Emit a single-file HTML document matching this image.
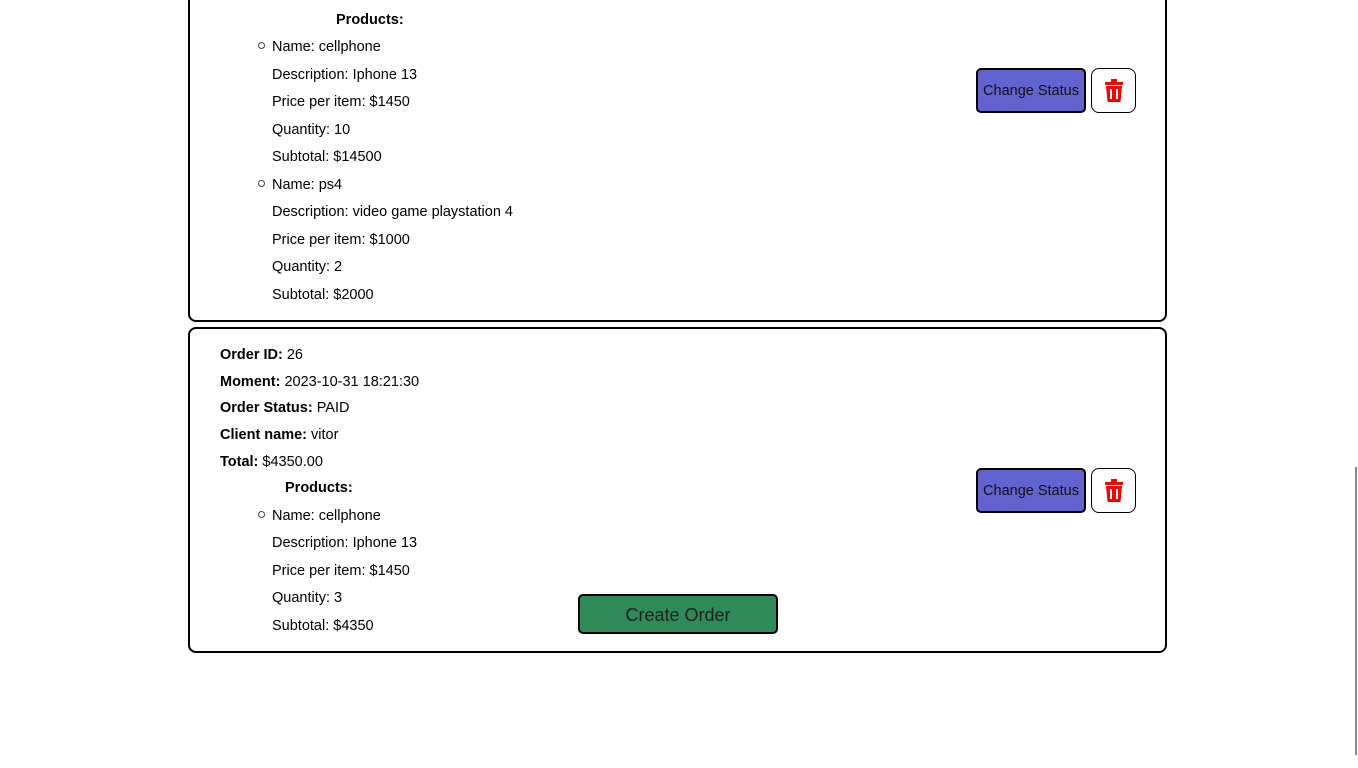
<!DOCTYPE html>
<html><head><style>
body{margin:0;width:1358px;height:768px;background:#fff;position:relative;overflow:hidden;font-family:"Liberation Sans",sans-serif;font-size:15px;color:#000}
.card{position:absolute;left:188px;width:975px;border:2px solid #000;border-radius:8px}
.t{position:absolute;line-height:20px;white-space:nowrap;font-size:14.5px}
b{font-weight:bold}
.cs{position:absolute;left:976px;width:106px;height:41px;background:#6363cf;border:2px solid #000;border-radius:5px;font-size:14.5px;line-height:43px;text-align:center;color:#111}
.tr{position:absolute;left:1091px;width:43px;height:43px;border:1px solid #000;border-radius:8px;background:#fff}
.b{position:absolute;left:258px;width:5px;height:5px;border:1px solid #444;border-radius:50%}
</style></head><body>
<div class="card" style="top:-20px;height:338px"></div>
<div class="card" style="top:327px;height:322px"></div>

<div class="t" style="left:336px;top:10px"><b>Products:</b></div>
<div class="b" style="top:42px"></div>
<div class="t" style="left:272px;top:37px">Name: cellphone</div>
<div class="t" style="left:272px;top:65px">Description: Iphone 13</div>
<div class="t" style="left:272px;top:92px">Price per item: $1450</div>
<div class="t" style="left:272px;top:120px">Quantity: 10</div>
<div class="t" style="left:272px;top:147px">Subtotal: $14500</div>
<div class="b" style="top:180px"></div>
<div class="t" style="left:272px;top:175px">Name: ps4</div>
<div class="t" style="left:272px;top:202px">Description: video game playstation 4</div>
<div class="t" style="left:272px;top:230px">Price per item: $1000</div>
<div class="t" style="left:272px;top:257px">Quantity: 2</div>
<div class="t" style="left:272px;top:285px">Subtotal: $2000</div>

<div class="t" style="left:220px;top:345px"><b>Order ID:</b> 26</div>
<div class="t" style="left:220px;top:372px"><b>Moment:</b> 2023-10-31 18:21:30</div>
<div class="t" style="left:220px;top:398px"><b>Order Status:</b> PAID</div>
<div class="t" style="left:220px;top:425px"><b>Client name:</b> vitor</div>
<div class="t" style="left:220px;top:452px"><b>Total:</b> $4350.00</div>
<div class="t" style="left:285px;top:478px"><b>Products:</b></div>
<div class="b" style="top:511px"></div>
<div class="t" style="left:272px;top:506px">Name: cellphone</div>
<div class="t" style="left:272px;top:533px">Description: Iphone 13</div>
<div class="t" style="left:272px;top:561px">Price per item: $1450</div>
<div class="t" style="left:272px;top:588px">Quantity: 3</div>
<div class="t" style="left:272px;top:616px">Subtotal: $4350</div>

<div class="cs" style="top:68px">Change Status</div>
<div class="tr" style="top:68px"><svg width="43" height="43" viewBox="0 0 43 43"><rect x="13" y="13" width="18" height="3" fill="red"/><rect x="19" y="10" width="6" height="3" fill="red"/><path d="M14 17h16l-1.5 16h-13z" fill="red"/><rect x="18" y="20" width="2" height="10" fill="#fff"/><rect x="24" y="20" width="2" height="10" fill="#fff"/></svg></div>
<div class="cs" style="top:468px">Change Status</div>
<div class="tr" style="top:468px"><svg width="43" height="43" viewBox="0 0 43 43"><rect x="13" y="13" width="18" height="3" fill="red"/><rect x="19" y="10" width="6" height="3" fill="red"/><path d="M14 17h16l-1.5 16h-13z" fill="red"/><rect x="18" y="20" width="2" height="10" fill="#fff"/><rect x="24" y="20" width="2" height="10" fill="#fff"/></svg></div>

<div style="position:absolute;left:578px;top:594px;width:196px;height:36px;background:#2e8b57;border:2px solid #000;border-radius:5px;text-align:center;line-height:38px;font-size:18px;color:#222">Create Order</div>
<div style="position:absolute;left:1355px;top:467px;width:2px;height:288px;background:#888"></div>
</body></html>
